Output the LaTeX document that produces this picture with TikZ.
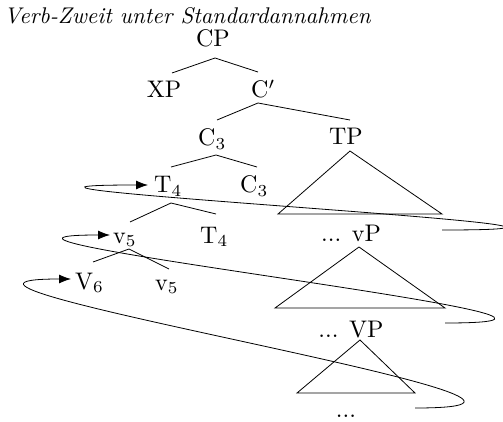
\documentclass[tikz,border=0pt]{standalone}
\usetikzlibrary{arrows.meta}
\newcommand{\mylbl}[1]{\scalebox{2.4}{\fontsize{10}{12}\selectfont #1}}
\newcommand{\mytitle}[1]{\scalebox{2.27}{\fontsize{10}{12}\selectfont\itshape #1}}
\begin{document}
\begin{tikzpicture}[x=1pt,y=-1pt,
  lab/.style={inner sep=0pt,anchor=base},
  labw/.style={lab,anchor=base west},
  branch/.style={line width=0.8pt},
  tri/.style={line width=0.8pt,line join=miter},
  move/.style={line width=0.8pt,-{Latex[length=12pt,width=9pt]}}]
\useasboundingbox (0,0) rectangle (503,422);
% texts
\node[labw] (title) at (4,24) {\mytitle{Verb-Zweit unter Standardannahmen}};
\node[lab] (cp) at (213,47) {\mylbl{CP}};
\node[lab] (xp) at (164,98) {\mylbl{XP}};
\node[labw] (c1) at (251,98) {\mylbl{C$'$}};
\node[labw] (c3u) at (198,146) {\mylbl{C$_3$}};
\node[lab] (tp) at (346,145) {\mylbl{TP}};
\node[labw] (t4u) at (154,193) {\mylbl{T$_4$}};
\node[labw] (c3l) at (240,193) {\mylbl{C$_3$}};
\node[labw] (v5u) at (113,243) {\mylbl{v$_5$}};
\node[labw] (t4l) at (200,243) {\mylbl{T$_4$}};
\node[lab] (vp1) at (351,241) {\mylbl{... vP}};
\node[labw] (v6) at (75,289) {\mylbl{V$_6$}};
\node[labw] (v5l) at (155,290) {\mylbl{v$_5$}};
\node[lab] (vp2) at (351,337) {\mylbl{... VP}};
\node[lab] (dots) at (346,417) {\mylbl{...}};
% branch points
\coordinate (cpS) at (215,58);
\coordinate (xpN) at (172,73);
\coordinate (c1N) at (258,72);
\coordinate (c1S) at (258,103);
\coordinate (c3uN) at (217,120);
\coordinate (tpN) at (350,120);
\coordinate (c3uS) at (216,155);
\coordinate (t4uN) at (171,167);
\coordinate (c3lN) at (257,167);
\coordinate (t4uS) at (171,203);
\coordinate (v5uN) at (130,222);
\coordinate (t4lN) at (216,214);
\coordinate (v5uS) at (129,249);
\coordinate (v6N) at (93,262);
\coordinate (v5lN) at (169,269);
% branches
\draw[branch] (xpN) -- (cpS) -- (c1N);
\draw[branch] (c3uN) -- (c1S) -- (tpN);
\draw[branch] (t4uN) -- (c3uS) -- (c3lN);
\draw[branch] (v5uN) -- (t4uS) -- (t4lN);
\draw[branch] (v6N) -- (v5uS) -- (v5lN);
% triangles
\coordinate (tpA) at (350,151); \coordinate (tpL) at (278,214); \coordinate (tpR) at (442,214);
\coordinate (vpA) at (359,247); \coordinate (vpL) at (275,308); \coordinate (vpR) at (445,308);
\coordinate (VpA) at (360,340); \coordinate (VpL) at (297,393); \coordinate (VpR) at (415,393);
\draw[tri] (tpA) -- (tpL) -- (tpR) -- cycle;
\draw[tri] (vpA) -- (vpL) -- (vpR) -- cycle;
\draw[tri] (VpA) -- (VpL) -- (VpR) -- cycle;
% movement arrows
\coordinate (m1s) at (442,230); \coordinate (m1e) at (148,185);
\coordinate (m2s) at (445,323); \coordinate (m2e) at (110,235);
\coordinate (m3s) at (415,408); \coordinate (m3e) at (71,279);
\draw[move] (m1s) .. controls +(300,0) and +(-280,0) .. (m1e);
\draw[move] (m2s) .. controls +(255,0) and +(-225,0) .. (m2e);
\draw[move] (m3s) .. controls +(254,0) and +(-226,0) .. (m3e);
\end{tikzpicture}
\end{document}
